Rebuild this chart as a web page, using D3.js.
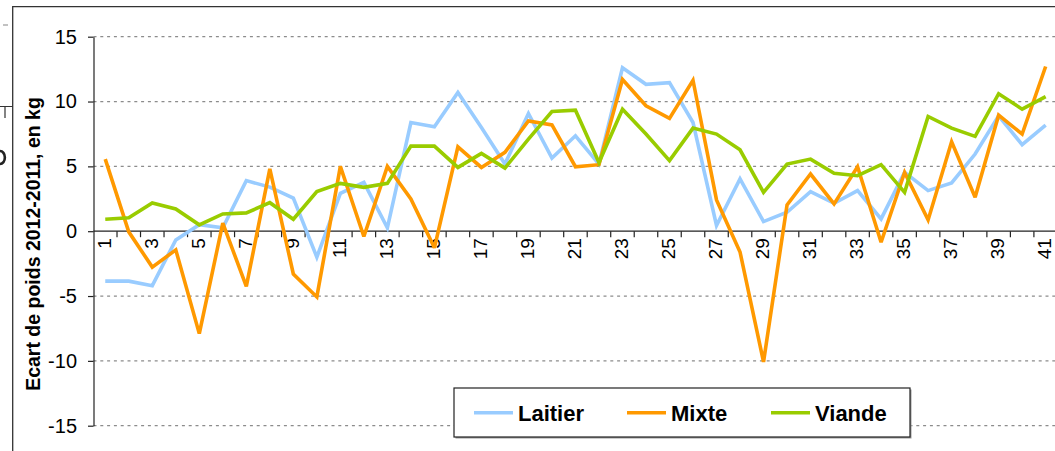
<!DOCTYPE html>
<html>
<head>
<meta charset="utf-8">
<script src="https://cdn.jsdelivr.net/npm/d3@7"></script>
<style>
  body { margin: 0; background: #fff; }
  svg { display: block; font-family: "Liberation Sans", Arial, sans-serif; }
  .grid line { stroke: #8c8c8c; stroke-width: 1.3; stroke-dasharray: 3 3.8; }
  .axis path, .axis line { stroke: #222; stroke-width: 1.2; }
  .axis text { font-family: "Liberation Sans", Arial, sans-serif; fill: #000; }
</style>
</head>
<body>
<div id="chart"></div>
<script>
const categories = d3.range(1, 42);

const laitier = [-3.85, -3.85, -4.2, -0.67, 0.5, 0.26, 3.9, 3.4, 2.56, -2.0,
  2.92, 3.77, 0.26, 8.38, 8.05, 10.7, 8.0, 5.18, 9.08, 5.64,
  7.36, 5.18, 12.6, 11.33, 11.46, 8.38, 0.44, 4.03, 0.74, 1.46,
  3.05, 2.15, 3.13, 0.95, 4.54, 3.13, 3.72, 5.95, 8.9, 6.67, 8.18];

const mixte = [5.56, -0.05, -2.77, -1.44, -7.9, 0.62, -4.26, 4.8, -3.3, -5.07,
  5.0, -0.41, 5.0, 2.49, -1.28, 6.5, 4.92, 6.08, 8.5, 8.2,
  4.97, 5.13, 11.7, 9.67, 8.7, 11.64, 2.41, -1.6, -10.08, 2.03,
  4.41, 2.1, 4.97, -0.85, 4.54, 0.87, 6.9, 2.62, 8.95, 7.49, 12.7];

const viande = [0.92, 1.03, 2.18, 1.72, 0.49, 1.33, 1.41, 2.2, 0.92, 3.05,
  3.69, 3.38, 3.69, 6.56, 6.56, 4.92, 6.0, 4.87, 7.1, 9.23,
  9.33, 5.3, 9.41, 7.49, 5.44, 7.95, 7.49, 6.28, 3.0, 5.18,
  5.56, 4.46, 4.28, 5.13, 3.0, 8.85, 7.95, 7.31, 10.6, 9.41, 10.38];

const seriesNames = ['Laitier', 'Mixte', 'Viande'];
const seriesColors = ['#99ccff', '#ff9900', '#99cc00'];
const yTicks = [-15, -10, -5, 0, 5, 10, 15];
const yTitle = 'Ecart de poids 2012-2011, en kg';

const width = 1055, height = 451;
const plotLeft = 93.5, plotTop = 36.7, plotBottom = 425.7, band = 23.51;

const svg = d3.select('#chart').append('svg')
    .attr('width', width)
    .attr('height', height);

// frame of the chart object (cut off on the right)
svg.append('path')
    .attr('d', 'M12.7,451 V6.7 H' + width)
    .attr('fill', 'none')
    .attr('stroke', '#333')
    .attr('stroke-width', 1.3);

// leftovers of a neighbouring object outside the frame
svg.append('line').attr('x1', 3).attr('x2', 8).attr('y1', 25).attr('y2', 25)
    .attr('stroke', '#999').attr('stroke-width', 1.2);
svg.append('path').attr('d', 'M0,106.5 H13 M5,106.5 V118')
    .attr('fill', 'none').attr('stroke', '#333').attr('stroke-width', 1.2);
svg.append('path').attr('d', 'M0,151 A4.5,6 0 0 1 0,164')
    .attr('fill', 'none').attr('stroke', '#222').attr('stroke-width', 2.6);

const x = d3.scaleBand()
    .domain(categories)
    .range([plotLeft, plotLeft + band * categories.length]);

const y = d3.scaleLinear()
    .domain([-15, 15])
    .range([plotBottom, plotTop]);

// dotted gridlines
svg.append('g')
    .attr('class', 'grid')
    .selectAll('line')
    .data(yTicks.filter(d => d !== 0))
    .enter().append('line')
    .attr('x1', plotLeft)
    .attr('x2', width)
    .attr('y1', d => y(d))
    .attr('y2', d => y(d));

// y axis
const yAxis = svg.append('g')
    .attr('class', 'axis')
    .attr('transform', 'translate(' + plotLeft + ',0)')
    .call(d3.axisLeft(y).tickValues(yTicks).tickFormat(d => String(d))
        .tickSize(5.5).tickSizeOuter(0).tickPadding(11));
yAxis.selectAll('text')
    .style('font-size', '20px');

// x axis on the zero line, ticks between categories
const xAxisG = svg.append('g')
    .attr('class', 'axis')
    .attr('transform', 'translate(0,' + y(0) + ')');
xAxisG.append('line')
    .attr('x1', plotLeft)
    .attr('x2', width);
xAxisG.selectAll('.tick')
    .data(categories)
    .enter().append('line')
    .attr('class', 'tick')
    .attr('x1', d => x(d) + x.bandwidth())
    .attr('x2', d => x(d) + x.bandwidth())
    .attr('y1', 0)
    .attr('y2', 6);
xAxisG.selectAll('.xlabel')
    .data(categories.filter(d => d % 2 === 1))
    .enter().append('text')
    .attr('class', 'xlabel')
    .attr('transform', d => 'translate(' + (x(d) + x.bandwidth() / 2 - 1) + ',7)rotate(-90)')
    .attr('dy', '0.35em')
    .attr('text-anchor', 'end')
    .style('font-size', '19px')
    .text(d => d);

// y axis title
svg.append('text')
    .attr('transform', 'translate(33,' + 244 + ')rotate(-90)')
    .attr('text-anchor', 'middle')
    .attr('dy', '0.35em')
    .style('font-size', '19.5px')
    .style('font-weight', 'bold')
    .text(yTitle);

// series lines
const allSeries = [laitier, mixte, viande];
const line = d3.line()
    .x((d, i) => x(categories[i]) + x.bandwidth() / 2)
    .y(d => y(d));

svg.append('g')
    .selectAll('path')
    .data(allSeries)
    .enter().append('path')
    .attr('d', d => line(d))
    .attr('fill', 'none')
    .attr('stroke', (d, i) => seriesColors[i])
    .attr('stroke-width', 3.6)
    .attr('stroke-linejoin', 'miter')
    .attr('stroke-miterlimit', 3);

// legend
const legend = svg.append('g').attr('transform', 'translate(454,388)');
legend.append('rect')
    .attr('x', 1.5).attr('y', 1.5)
    .attr('width', 456).attr('height', 49)
    .attr('fill', '#999');
legend.append('rect')
    .attr('width', 456).attr('height', 49)
    .attr('fill', '#fff')
    .attr('stroke', '#222')
    .attr('stroke-width', 1.2);
const legendX = [20, 173, 317];
const items = legend.selectAll('.item')
    .data(seriesNames)
    .enter().append('g')
    .attr('class', 'item')
    .attr('transform', (d, i) => 'translate(' + legendX[i] + ',24.7)');
items.append('line')
    .attr('x1', 0).attr('x2', 39)
    .attr('stroke', (d, i) => seriesColors[i])
    .attr('stroke-width', 3.6);
items.append('text')
    .attr('x', 44)
    .attr('dy', '0.36em')
    .style('font-size', '22px')
    .style('font-weight', 'bold')
    .text(d => d);
</script>
</body>
</html>
